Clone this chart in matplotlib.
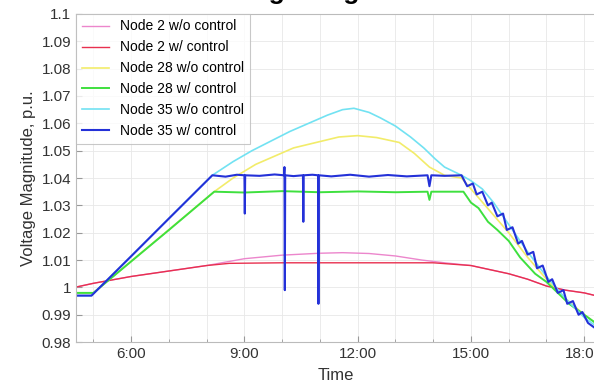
import matplotlib.pyplot as plt
from matplotlib.ticker import MultipleLocator

plt.rcParams['font.family'] = ['Liberation Sans', 'DejaVu Sans']

# time in hours of day
t_blue = [4.50, 4.95, 6.0, 7.0, 8.15, 8.5, 8.8, 9.0, 9.01, 9.02, 9.4, 9.8,
          10.05, 10.06, 10.07, 10.08, 10.3, 10.55, 10.56, 10.57, 10.8,
          10.95, 10.96, 10.97, 11.3, 11.8, 12.3, 12.8, 13.3, 13.85, 13.9,
          13.95, 14.3, 14.75, 14.9, 15.05, 15.15, 15.3, 15.45, 15.55, 15.7,
          15.85, 15.95, 16.1, 16.25, 16.35, 16.5, 16.65, 16.75, 16.9, 17.05,
          17.15, 17.3, 17.45, 17.55, 17.7, 17.85, 17.95, 18.1, 18.3]
v_blue = [0.997, 0.997, 1.0114, 1.0252, 1.041, 1.0405, 1.0412, 1.041, 1.027,
          1.041, 1.0408, 1.0413, 1.041, 1.044, 0.999, 1.041, 1.0407, 1.041,
          1.024, 1.041, 1.0412, 1.041, 0.994, 1.041, 1.0406, 1.0412, 1.0405,
          1.0411, 1.0406, 1.041, 1.037, 1.041, 1.0408, 1.041, 1.037, 1.038,
          1.034, 1.035, 1.030, 1.031, 1.026, 1.027, 1.021, 1.022, 1.016,
          1.017, 1.012, 1.013, 1.007, 1.008, 1.002, 1.003, 0.998, 0.999,
          0.994, 0.995, 0.990, 0.991, 0.987, 0.985]

t_cyan = [4.50, 4.95, 6.0, 7.0, 8.15, 8.7, 9.2, 9.7, 10.2, 10.7, 11.2, 11.6,
          11.9, 12.3, 12.6, 13.0, 13.4, 13.75, 14.05, 14.3, 14.6, 14.75,
          15.0, 15.3, 15.6, 16.0, 16.5, 17.0, 17.5, 18.0, 18.3]
v_cyan = [0.997, 0.997, 1.0114, 1.0252, 1.041, 1.046, 1.050, 1.0535, 1.057,
          1.060, 1.063, 1.065, 1.0655, 1.064, 1.062, 1.059, 1.055, 1.051,
          1.047, 1.044, 1.042, 1.041, 1.039, 1.036, 1.031, 1.023, 1.013,
          1.004, 0.996, 0.989, 0.986]

t_yellow = [4.50, 5.0, 8.2, 8.7, 9.3, 9.8, 10.3, 10.9, 11.5, 12.0, 12.5,
            13.1, 13.5, 13.9, 14.3, 14.75, 15.0, 15.5, 16.0, 16.5, 17.0,
            17.5, 18.0, 18.3]
v_yellow = [0.998, 0.998, 1.035, 1.040, 1.045, 1.048, 1.051, 1.053, 1.055,
            1.0555, 1.0548, 1.053, 1.049, 1.044, 1.041, 1.040, 1.036, 1.028,
            1.020, 1.011, 1.003, 0.996, 0.990, 0.987]

t_green = [4.50, 5.0, 6.0, 7.0, 8.2, 9.0, 10.0, 11.0, 12.0, 13.0, 13.85,
           13.9, 13.95, 14.8, 15.0, 15.2, 15.45, 15.7, 16.0, 16.3, 16.7,
           17.0, 17.3, 17.6, 18.0, 18.3]
v_green = [0.998, 0.998, 1.0095, 1.021, 1.035, 1.0347, 1.0352, 1.0348,
           1.0351, 1.0348, 1.035, 1.032, 1.035, 1.035, 1.031, 1.029, 1.024,
           1.021, 1.017, 1.011, 1.005, 1.002, 0.998, 0.994, 0.990, 0.987]

t_red = [4.50, 5.0, 6.0, 7.0, 8.0, 8.6, 10.0, 12.0, 14.0, 14.5, 15.0, 15.5,
         16.0, 16.5, 17.0, 17.5, 18.0, 18.3]
v_red = [1.000, 1.0015, 1.004, 1.006, 1.008, 1.0088, 1.009, 1.009, 1.009,
         1.0085, 1.008, 1.0065, 1.005, 1.003, 1.0005, 0.999, 0.998, 0.997]

t_pink = [4.50, 5.0, 6.0, 7.0, 8.0, 9.0, 10.0, 11.0, 11.6, 12.3, 13.0, 13.7,
          14.3, 15.0, 15.5, 16.0, 16.5, 17.0, 17.5, 18.0, 18.3]
v_pink = [1.000, 1.0015, 1.004, 1.006, 1.008, 1.0105, 1.0118, 1.0125,
          1.0127, 1.0124, 1.0115, 1.010, 1.009, 1.008, 1.0065, 1.005, 1.003,
          1.0005, 0.999, 0.998, 0.997]

xticks = [6, 9, 12, 15, 18]
xtick_labels = ['6:00', '9:00', '12:00', '15:00', '18:00']
yticks = [0.98, 0.99, 1.0, 1.01, 1.02, 1.03, 1.04, 1.05, 1.06, 1.07, 1.08,
          1.09, 1.1]
ytick_labels = ['0.98', '0.99', '1', '1.01', '1.02', '1.03', '1.04', '1.05',
                '1.06', '1.07', '1.08', '1.09', '1.1']

fig = plt.figure(figsize=(5.94, 3.87), dpi=100)
ax = fig.add_axes([0.128, 0.116, 0.874, 0.848])

ax.plot(t_pink, v_pink, color='#ec86cc', lw=1.0, label='Node 2 w/o control')
ax.plot(t_red, v_red, color='#e8304f', lw=1.0, label='Node 2 w/ control')
ax.plot(t_yellow, v_yellow, color='#f2ec6a', lw=1.2, label='Node 28 w/o control')
ax.plot(t_green, v_green, color='#3ee03e', lw=1.4, label='Node 28 w/ control')
ax.plot(t_cyan, v_cyan, color='#72e2f2', lw=1.2, label='Node 35 w/o control')
ax.plot(t_blue, v_blue, color='#2431d8', lw=1.5, label='Node 35 w/ control')

ax.set_xlim(4.54, 18.29)
ax.set_ylim(0.98, 1.1)
ax.set_xticks(xticks)
ax.set_xticklabels(xtick_labels)
ax.xaxis.set_minor_locator(MultipleLocator(1))
ax.set_yticks(yticks)
ax.set_yticklabels(ytick_labels)
ax.grid(True, which='both', color='#e8e8e8', lw=0.6)
ax.set_axisbelow(True)
ax.tick_params(which='both', direction='in', colors='#999999',
               labelcolor='#333333', labelsize=11)
ax.tick_params(which='major', length=4)
ax.tick_params(which='minor', length=2.5)
for s in ax.spines.values():
    s.set_color('#bbbbbb')

ax.set_xlabel('Time', fontsize=12, color='#333333', labelpad=5)
ax.set_ylabel('Voltage Magnitude, p.u.', fontsize=12, color='#333333', labelpad=4)

leg = ax.legend(loc='upper left', fontsize=10, frameon=True, fancybox=False,
                borderaxespad=0, handlelength=2.0, labelspacing=0.5,
                edgecolor='#bbbbbb')
leg.get_frame().set_linewidth(0.8)

fig.text(0.542, 1.003, 'Voltage Magnitude', fontsize=19, fontweight='bold',
         ha='center', va='baseline')

fig.savefig('out.png', dpi=100)
